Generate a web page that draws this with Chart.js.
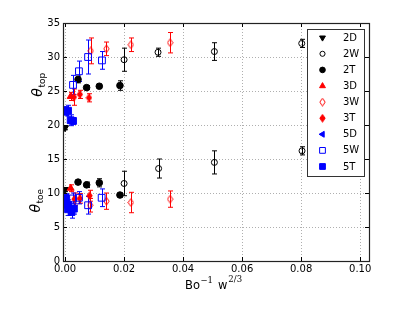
<!DOCTYPE html>
<html>
<head>
<meta charset="utf-8">
<script src="https://cdn.jsdelivr.net/npm/chart.js@4.4.1/dist/chart.umd.min.js"></script>
</head>
<body style="margin:0">
<canvas id="chart" width="415" height="312"></canvas>
<script>
// Tick values
const xTicks = [0, 0.02, 0.04, 0.06, 0.08, 0.10];
const yTicks = [0, 5, 10, 15, 20, 25, 30, 35];

// Series names (legend order)
const seriesNames = ['2D', '2W', '2T', '3D', '3W', '3T', '5D', '5W', '5T'];

// 2D
const x2D = [0.0, 0.0];
const y2D = [19.6, 10.5];
const e2D = [0.3, 0.3];
// 2W
const x2W = [0.0200, 0.0315, 0.0506, 0.0802, 0.0200, 0.0317, 0.0506, 0.0803];
const y2W = [29.6, 30.7, 30.8, 32.0, 11.4, 13.6, 14.5, 16.2];
const e2W = [1.7, 0.6, 1.3, 0.6, 1.8, 1.4, 1.7, 0.6];
// 2T
const x2T = [0.0044, 0.0073, 0.0116, 0.0186, 0.0044, 0.0073, 0.0116, 0.0186];
const y2T = [26.7, 25.5, 25.7, 25.8, 11.6, 11.2, 11.5, 9.7];
const e2T = [0.5, 0.3, 0.3, 0.7, 0.3, 0.4, 0.6, 0.3];
// 3D
const x3D = [0.0019, 0.0019];
const y3D = [24.2, 10.7];
const e3D = [0.6, 0.5];
// 3W
const x3W = [0.0087, 0.0140, 0.0223, 0.0356, 0.0085, 0.0140, 0.0223, 0.0356];
const y3W = [30.9, 31.2, 31.8, 32.1, 8.2, 8.8, 8.6, 9.1];
const e3W = [1.9, 1.0, 1.0, 1.5, 1.0, 1.2, 1.5, 1.2];
// 3T
const x3T = [0.0030, 0.0050, 0.0081, 0.0032, 0.0050, 0.0083];
const y3T = [24.1, 24.5, 24.0, 9.1, 9.2, 9.6];
const e3T = [1.2, 0.6, 0.6, 0.9, 0.7, 0.8];
// 5D
const x5D = [0.0002, 0.0002];
const y5D = [21.8, 8.9];
const e5D = [0, 0];
// 5W
const x5W = [0.0001, 0.0027, 0.0047, 0.0078, 0.0125, 0.0001, 0.0027, 0.0047, 0.0078, 0.0124];
const y5W = [22.0, 25.9, 27.9, 30.0, 29.5, 8.6, 9.2, 9.3, 8.2, 9.3];
const e5W = [0.5, 1.4, 1.5, 2.5, 1.3, 0.8, 0.8, 0.9, 1.3, 1.3];
// 5T
const x5T = [0.0, 0.0010, 0.0019, 0.0027, 0.0002, 0.0, 0.0010, 0.0022, 0.0030, 0.0010];
const y5T = [22.1, 22.1, 20.7, 20.6, 9.3, 8.8, 7.6, 7.2, 7.7, 8.3];
const e5T = [0.6, 0.8, 0.8, 0.5, 0.6, 0.6, 0.9, 0.9, 0.8, 0.7];

const BLACK = '#000000';
const RED = '#ff0000';
const BLUE = '#0000ff';
const NONE = 'rgba(0,0,0,0)';

// thin diamond marker (matplotlib 'd')
function thinDiamond(color, filled) {
  const c = document.createElement('canvas');
  c.width = 7; c.height = 9;
  const g = c.getContext('2d');
  g.beginPath();
  g.moveTo(3.5, 0.7);
  g.lineTo(6.2, 4.5);
  g.lineTo(3.5, 8.3);
  g.lineTo(0.8, 4.5);
  g.closePath();
  if (filled) { g.fillStyle = color; g.fill(); }
  g.strokeStyle = color;
  g.lineWidth = 1;
  g.stroke();
  return c;
}

function toPoints(xs, ys) {
  return xs.map((x, i) => ({ x: x, y: ys[i] }));
}

function series(label, xs, ys, errs, color, style, radius, filled, rotation, idx) {
  return {
    label: label,
    data: toPoints(xs, ys),
    errors: errs,
    errColor: color,
    pointStyle: style,
    pointRadius: radius,
    pointHoverRadius: radius,
    pointRotation: rotation || 0,
    pointBackgroundColor: filled ? color : NONE,
    pointBorderColor: color,
    pointBorderWidth: 1,
    showLine: false,
    order: 20 - idx
  };
}

const datasets = [
  series('2D', x2D, y2D, e2D, BLACK, 'triangle', 4, true, 180, 0),
  series('2W', x2W, y2W, e2W, BLACK, 'circle', 3, false, 0, 1),
  series('2T', x2T, y2T, e2T, BLACK, 'circle', 3.3, true, 0, 2),
  series('3D', x3D, y3D, e3D, RED, 'triangle', 4, true, 0, 3),
  series('3W', x3W, y3W, e3W, RED, thinDiamond(RED, false), 4, false, 0, 4),
  series('3T', x3T, y3T, e3T, RED, thinDiamond(RED, true), 4, true, 0, 5),
  series('5D', x5D, y5D, e5D, BLUE, 'triangle', 4, true, -90, 6),
  series('5W', x5W, y5W, e5W, BLUE, 'rect', 4.8, false, 0, 7),
  series('5T', x5T, y5T, e5T, BLUE, 'rect', 4.8, true, 0, 8)
];

// Error bars drawn from each dataset's errors through the scales
const errorBars = {
  id: 'errorBars',
  beforeDatasetsDraw(chart) {
    const ctx = chart.ctx;
    const xs = chart.scales.x, ys = chart.scales.y;
    const area = chart.chartArea;
    ctx.save();
    ctx.beginPath();
    ctx.rect(area.left, area.top, area.right - area.left, area.bottom - area.top);
    ctx.clip();
    ctx.lineWidth = 1;
    chart.data.datasets.forEach(ds => {
      ctx.strokeStyle = ds.errColor;
      ds.data.forEach((p, i) => {
        const e = ds.errors ? ds.errors[i] : 0;
        if (!e) return;
        const px = Math.round(xs.getPixelForValue(p.x)) + 0.5;
        const top = ys.getPixelForValue(p.y + e);
        const bot = ys.getPixelForValue(p.y - e);
        ctx.beginPath();
        ctx.moveTo(px, top); ctx.lineTo(px, bot);
        ctx.moveTo(px - 2.5, top); ctx.lineTo(px + 2.5, top);
        ctx.moveTo(px - 2.5, bot); ctx.lineTo(px + 2.5, bot);
        ctx.stroke();
      });
    });
    ctx.restore();
  }
};

// Frame, inward ticks, axis titles, legend box and y tick labels
const decorations = {
  id: 'decorations',
  afterDraw(chart) {
    const ctx = chart.ctx;
    const a = chart.chartArea;
    const xs = chart.scales.x, ys = chart.scales.y;
    // drop any drawing state left on the stack
    for (let k = 0; k < 20; k++) ctx.restore();
    ctx.save();
    ctx.globalAlpha = 1;
    ctx.globalCompositeOperation = 'source-over';

    // inward tick marks
    ctx.strokeStyle = '#000';
    ctx.lineWidth = 1;
    ctx.beginPath();
    xTicks.forEach(v => {
      const px = Math.round(xs.getPixelForValue(v)) + 0.5;
      ctx.moveTo(px, a.bottom); ctx.lineTo(px, a.bottom - 4);
      ctx.moveTo(px, a.top); ctx.lineTo(px, a.top + 4);
    });
    yTicks.forEach(v => {
      const py = Math.round(ys.getPixelForValue(v)) + 0.5;
      ctx.moveTo(a.left, py); ctx.lineTo(a.left + 4, py);
      ctx.moveTo(a.right, py); ctx.lineTo(a.right - 4, py);
    });
    ctx.stroke();

    // frame
    ctx.strokeStyle = '#222';
    ctx.lineWidth = 1.2;
    ctx.strokeRect(Math.round(a.left) + 0.5, Math.round(a.top) + 0.5,
      Math.round(a.right - a.left), Math.round(a.bottom - a.top));

    // x title: Bo^-1 w^(2/3)
    ctx.fillStyle = '#000';
    ctx.textBaseline = 'alphabetic';
    ctx.textAlign = 'left';
    let cx = 185;
    ctx.font = '11.5px "DejaVu Sans"';
    ctx.fillText('Bo', cx, 289);
    cx += ctx.measureText('Bo').width + 0.5;
    ctx.font = '8.5px "DejaVu Serif"';
    ctx.fillText('\u22121', cx, 283);
    cx += ctx.measureText('\u22121').width + 5;
    ctx.font = '11.5px "DejaVu Sans"';
    ctx.fillText('w', cx, 289);
    cx += ctx.measureText('w').width + 1;
    ctx.font = '8.5px "DejaVu Serif"';
    ctx.fillText('2/3', cx, 282);

    // y titles: theta_top and theta_toe
    function thetaLabel(sub, x, y) {
      ctx.save();
      ctx.translate(x, y);
      ctx.rotate(-Math.PI / 2);
      ctx.font = 'italic 14px "DejaVu Sans"';
      const w1 = ctx.measureText('\u03b8').width;
      ctx.font = '9px "DejaVu Sans"';
      const w2 = ctx.measureText(sub).width;
      const start = -(w1 + w2) / 2;
      ctx.textBaseline = 'alphabetic';
      ctx.textAlign = 'left';
      ctx.font = 'italic 14px "DejaVu Sans"';
      ctx.fillText('\u03b8', start, 5);
      ctx.font = '9px "DejaVu Sans"';
      ctx.fillText(sub, start + w1 + 0.5, 8);
      ctx.restore();
    }
    thetaLabel('top', 37, 85);
    thetaLabel('toe', 35, 201);

    // legend box
    const lx = 307, ly = 29, lw = 57, lh = 147;
    ctx.fillStyle = '#fff';
    ctx.fillRect(lx, ly, lw, lh);
    ctx.strokeStyle = '#333';
    ctx.lineWidth = 1;
    ctx.strokeRect(lx + 0.5, ly + 0.5, lw, lh);
    ctx.font = '10px "DejaVu Sans"';
    ctx.textBaseline = 'middle';
    ctx.textAlign = 'left';
    chart.data.datasets.forEach((ds, i) => {
      const y = 37.7 + i * 16.1;
      ctx.fillStyle = ds.pointBackgroundColor;
      ctx.strokeStyle = ds.pointBorderColor;
      ctx.lineWidth = 1;
      Chart.helpers.drawPoint(ctx, {
        pointStyle: ds.pointStyle,
        rotation: ds.pointRotation,
        radius: ds.pointRadius * 0.85,
        borderWidth: 1
      }, 322.5, y);
      ctx.fillStyle = '#000';
      ctx.fillText(seriesNames[i], 343, y + 0.5);
    });
    ctx.restore();

    // y tick labels last, from the scale's ticks
    ctx.save();
    ctx.fillStyle = '#000';
    ctx.font = '10px "DejaVu Sans"';
    ctx.textAlign = 'right';
    ctx.textBaseline = 'middle';
    yTicks.forEach(v => {
      ctx.fillText(String(v), a.left - 3, ys.getPixelForValue(v));
    });
    ctx.restore();
  }
};

Chart.defaults.font.family = '"DejaVu Sans", sans-serif';
Chart.defaults.font.size = 10;
Chart.defaults.color = '#000';

new Chart(document.getElementById('chart'), {
  type: 'scatter',
  data: { datasets: datasets },
  options: {
    responsive: false,
    animation: false,
    events: [],
    layout: { padding: { top: 23, right: 46, left: 0, bottom: 0 } },
    plugins: {
      legend: { display: false },
      tooltip: { enabled: false }
    },
    scales: {
      x: {
        type: 'linear',
        min: -0.0007,
        max: 0.103,
        afterBuildTicks: scale => { scale.ticks = xTicks.map(v => ({ value: v })); },
        afterFit: scale => { scale.height = 51; },
        ticks: {
          padding: 2,
          maxRotation: 0,
          autoSkip: false,
          callback: v => Number(v).toFixed(2)
        },
        grid: { color: '#9a9a9a', lineWidth: 0.8, drawTicks: false },
        border: { display: false, dash: [1, 2] }
      },
      y: {
        type: 'linear',
        min: yTicks[0],
        max: yTicks[yTicks.length - 1],
        afterBuildTicks: scale => { scale.ticks = yTicks.map(v => ({ value: v })); },
        afterFit: scale => { scale.width = 63; },
        ticks: { display: false },
        grid: { color: '#9a9a9a', lineWidth: 0.8, drawTicks: false },
        border: { display: false, dash: [1, 2] }
      }
    }
  },
  plugins: [errorBars, decorations]
});
</script>
</body>
</html>
